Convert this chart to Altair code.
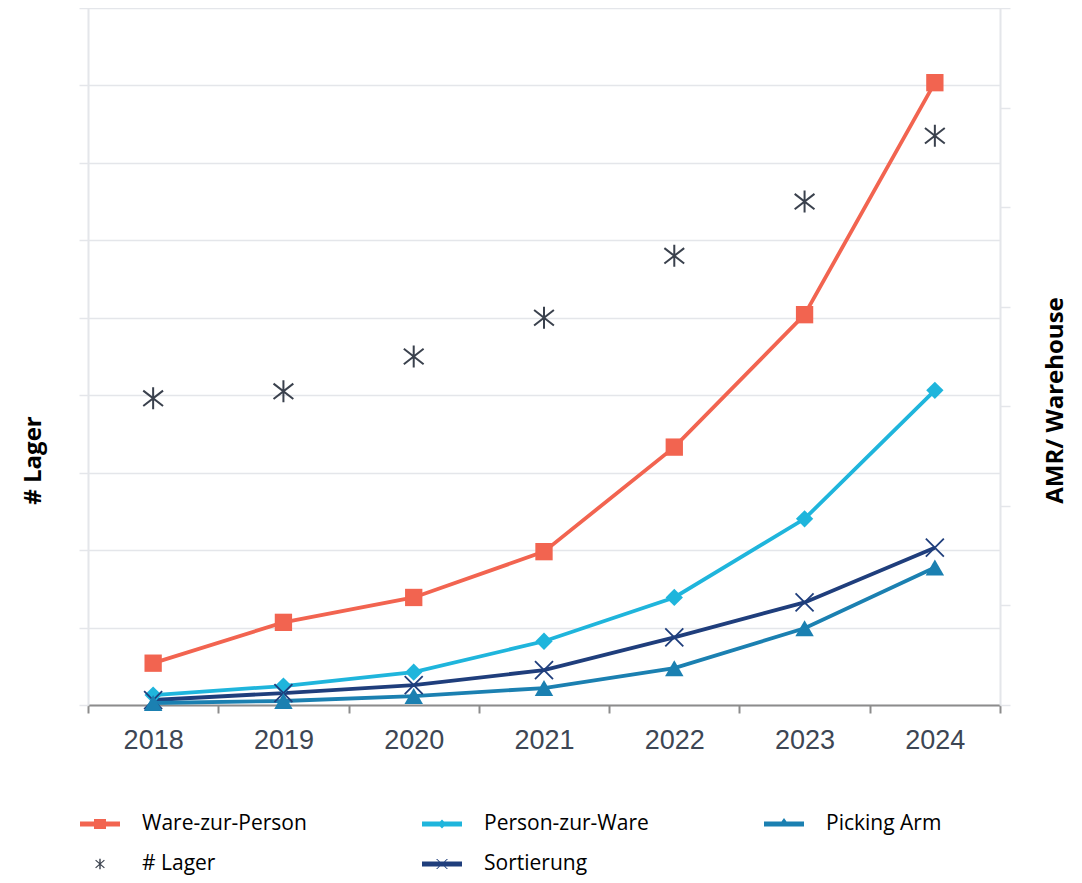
import altair as alt
import pandas as pd

# ---- data ----
years = ["2018", "2019", "2020", "2021", "2022", "2023", "2024"]
lager = [3.96, 4.05, 4.50, 5.00, 5.80, 6.50, 7.35]            # left axis (# Lager)
ware_zur_person = [0.42, 0.83, 1.08, 1.54, 2.59, 3.92, 6.25]   # right axis (AMR/ Warehouse)
person_zur_ware = [0.10, 0.19, 0.33, 0.64, 1.08, 1.87, 3.16]
sortierung = [0.05, 0.12, 0.20, 0.35, 0.68, 1.03, 1.58]
picking_arm = [0.02, 0.04, 0.09, 0.17, 0.37, 0.77, 1.38]

amr_names = ["Ware-zur-Person", "Person-zur-Ware", "Sortierung", "Picking Arm"]
amr_values = [ware_zur_person, person_zur_ware, sortierung, picking_arm]
amr_colors = ["#f26450", "#1fb5dc", "#1f3e7c", "#1b80b1"]

legend_names = ["Ware-zur-Person", "Person-zur-Ware", "Picking Arm", "# Lager", "Sortierung"]
legend_colors = ["#f26450", "#1fb5dc", "#1b80b1", "#3a414d", "#1f3e7c"]

# ---- tables ----
lager_df = pd.DataFrame({"year": years, "value": lager})
amr_df = pd.DataFrame(
    [{"year": y, "series": n, "value": v}
     for n, vals in zip(amr_names, amr_values) for y, v in zip(years, vals)]
)
legend_df = pd.DataFrame({"series": legend_names})

GRID = "#e4e6ea"
BAR = "M-1,-0.12H1V0.12H-1Z"
legend_paths = [
    BAR + "M-0.3,-0.25H0.3V0.25H-0.3Z",                       # square
    BAR + "M0,-0.22L0.22,0L0,0.22L-0.22,0Z",                    # diamond
    BAR + "M0,-0.3L0.3,0.12H-0.3Z",                             # triangle
    "M-0.035,-0.26H0.035V0.26H-0.035Z"
    "M-0.24,-0.18L-0.2,-0.21L0.24,0.18L0.2,0.21Z"
    "M0.2,-0.21L0.24,-0.18L-0.2,0.21L-0.24,0.18Z",              # asterisk
    BAR + "M-0.3,-0.25L-0.24,-0.25L0.3,0.25L0.24,0.25Z"
          "M0.24,-0.25L0.3,-0.25L-0.24,0.25L-0.3,0.25Z",        # x
]

x_enc = alt.X(
    "year:O",
    bandPosition=0.5,
    scale=alt.Scale(type="band", domain=years, paddingInner=0, paddingOuter=0),
    axis=alt.Axis(
        title=None, labelAngle=0, tickBand="extent", grid=False,
        domainColor="#8c8c8c", domainWidth=2, tickColor="#8c8c8c", tickWidth=2, tickSize=8,
        labelFont="Liberation Sans", labelFontSize=27, labelColor="#3d4654", labelPadding=14,
    ),
)

y_left = alt.Y(
    "value:Q",
    scale=alt.Scale(domain=[0, 9], nice=False, zero=True),
    axis=alt.Axis(
        title="# Lager", values=list(range(10)), labels=False,
        grid=True, gridColor=GRID, gridWidth=1.5,
        domainColor=GRID, domainWidth=2, tickColor=GRID, tickWidth=1.5, tickSize=9,
        titleFont="Open Sans", titleFontSize=24, titleFontWeight="bold", titleColor="black",
        titleAngle=270, titleX=-55, titleY=452, titleAlign="center", titleBaseline="middle",
    ),
)

y_right = alt.Y(
    "value:Q",
    scale=alt.Scale(domain=[0, 7], nice=False, zero=True),
    axis=alt.Axis(
        orient="right", title="AMR/ Warehouse", values=list(range(8)), labels=False, grid=False,
        domainColor=GRID, domainWidth=2, tickColor=GRID, tickWidth=1.5, tickSize=10,
        titleFont="Open Sans", titleFontSize=24, titleFontWeight="bold", titleColor="black",
        titleAngle=270, titleX=55, titleY=392, titleAlign="center", titleBaseline="middle",
    ),
)

ASTERISK = "M0,-1L0,1M-0.9,-0.7L0.9,0.7M-0.9,0.7L0.9,-0.7"
XMARK = "M-1,-1L1,1M-1,1L1,-1"

lager_layer = alt.Chart(lager_df).mark_point(
    shape=ASTERISK, size=484, filled=False, stroke="#3a414d", strokeWidth=2, opacity=1
).encode(x=x_enc, y=y_left)

lines = alt.Chart(amr_df).mark_line(strokeWidth=3.8).encode(
    x=x_enc, y=y_right,
    stroke=alt.Stroke("series:N", scale=alt.Scale(domain=amr_names, range=amr_colors), legend=None),
)

marker_specs = {
    "Ware-zur-Person": dict(shape="square", size=300, filled=True),
    "Person-zur-Ware": dict(shape="diamond", size=300, filled=True),
    "Sortierung": dict(shape=XMARK, size=324, filled=False, strokeWidth=1.8),
    "Picking Arm": dict(shape="triangle-up", size=340, filled=True),
}
point_layers = []
for name, color in zip(amr_names, amr_colors):
    spec = marker_specs[name]
    point_layers.append(
        alt.Chart(amr_df).transform_filter(alt.datum.series == name)
        .mark_point(color=color, opacity=1, **spec)
        .encode(x=x_enc, y=alt.Y("value:Q"))
    )

leg = alt.Legend(
    title=None, orient="none", direction="horizontal", legendX=-8, legendY=796, columns=3,
    columnPadding=115, rowPadding=10, symbolSize=1600, symbolStrokeWidth=0, symbolOpacity=1,
    padding=0, labelFont="Open Sans", labelFontSize=21, labelColor="black", labelOffset=22,
    labelLimit=400,
)
legend_layer = alt.Chart(legend_df).mark_point(filled=True, opacity=0).encode(
    x=alt.value(0), y=alt.value(0),
    fill=alt.Fill("series:N", scale=alt.Scale(domain=legend_names, range=legend_colors), legend=leg),
    shape=alt.Shape("series:N", scale=alt.Scale(domain=legend_names, range=legend_paths), legend=leg),
)

amr_layer = alt.layer(lines, *point_layers, legend_layer)

chart = alt.layer(lager_layer, amr_layer).resolve_scale(y="independent").properties(
    width=912, height=697,
    autosize=alt.AutoSizeParams(type="none"),
    padding={"left": 80, "top": 0, "right": 74, "bottom": 170},
).configure_view(stroke=None).configure(background="white")

chart.save("out.html", embed_options={"renderer": "svg", "actions": False})
